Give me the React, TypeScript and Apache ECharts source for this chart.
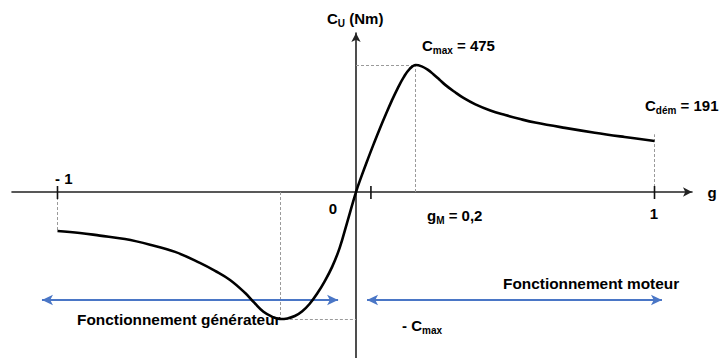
import React, { useEffect, useRef } from "react";
import * as echarts from "echarts";

// Torque / slip characteristic of an induction machine: g (slip) vs Cu (Nm)
// Generator side (g < 0)
const gGenerator = [-1, -0.925, -0.858, -0.774, -0.69, -0.606, -0.523, -0.472, -0.422, -0.372, -0.34, -0.31, -0.28, -0.255, -0.23, -0.205, -0.18, -0.155, -0.13, -0.105, -0.08, -0.055, -0.03, 0];
const cGenerator = [-146, -153, -163, -176, -197, -224, -265, -295, -329, -377, -415, -448, -467, -475, -473, -464, -446, -418, -380, -334, -280, -210, -115, 0];
// Motor side (g > 0)
const gMotor = [0.02, 0.04, 0.06, 0.08, 0.1, 0.12, 0.14, 0.16, 0.18, 0.2, 0.22, 0.24, 0.26, 0.28, 0.3, 0.33, 0.36, 0.4, 0.45, 0.5, 0.55, 0.6, 0.7, 0.8, 0.9, 1];
const cMotor = [64, 124, 182, 238, 291, 342, 389, 430, 461, 475, 470, 458, 440, 420, 400, 375, 352, 328, 305, 288, 273, 260, 240, 222, 206, 191];

// Marked slips on the g axis
const axisTickValues = [-1, 0.05, 1];

// Operating-range arrows (g from, g to)
const generatorRange = [-1.052, -0.06];
const motorRange = [0.037, 1.025];

const FONT = '"Liberation Sans", Arial, Helvetica, sans-serif';
const TEXT = "#1c1c1c";
const BLUE = "#4a76c6";

const rich = {
  b: { fontFamily: FONT, fontWeight: "bold", fontSize: 15, color: TEXT, lineHeight: 20 },
  s: { fontFamily: FONT, fontWeight: "bold", fontSize: 10, color: TEXT, lineHeight: 12, verticalAlign: "bottom" },
  w: { fontFamily: FONT, fontWeight: "bold", fontSize: 15.4, color: TEXT, lineHeight: 20 },
};

function label(x: number, y: number, text: string, align: string = "left") {
  return {
    type: "text",
    x,
    y,
    silent: true,
    style: { text, rich, align, verticalAlign: "middle" },
  };
}

export default function App() {
  const ref = useRef<HTMLDivElement>(null);

  useEffect(() => {
    if (!ref.current) return;
    const chart = echarts.init(ref.current, null, { renderer: "svg" });

    const curve = [
      ...gGenerator.map((g, i) => [g, cGenerator[i]]),
      ...gMotor.map((g, i) => [g, cMotor[i]]),
    ];

    const cMax = Math.max(...cMotor);
    const gPeak = gMotor[cMotor.indexOf(cMax)];
    const cMin = Math.min(...cGenerator);
    const gTrough = gGenerator[cGenerator.indexOf(cMin)];
    const gStart = gGenerator[0];
    const cStart = cGenerator[0];
    const gEnd = gMotor[gMotor.length - 1];
    const cEnd = cMotor[cMotor.length - 1];

    const seg = (a: number[], b: number[]) => [{ coord: a }, { coord: b }];
    const arrowLevel = -404;

    const option = {
      animation: false,
      backgroundColor: "#ffffff",
      grid: { left: 12, right: 33, top: 33, bottom: 0, containLabel: false },
      xAxis: {
        type: "value",
        min: -1.1524,
        max: 1.1256,
        axisLine: {
          show: true,
          onZero: true,
          symbol: ["none", "arrow"],
          symbolSize: [7, 9],
          lineStyle: { color: "#222", width: 1.6 },
        },
        axisTick: { show: false },
        axisLabel: { show: false },
        splitLine: { show: false },
      },
      yAxis: {
        type: "value",
        min: -621,
        max: 595,
        axisLine: {
          show: true,
          onZero: true,
          symbol: ["none", "arrow"],
          symbolSize: [7, 9],
          lineStyle: { color: "#222", width: 1.6 },
        },
        axisTick: { show: false },
        axisLabel: { show: false },
        splitLine: { show: false },
      },
      series: [
        {
          type: "line",
          data: curve,
          smooth: 0.4,
          showSymbol: false,
          lineStyle: { color: "#000", width: 2.6 },
          z: 5,
          markLine: {
            silent: true,
            symbol: ["none", "none"],
            label: { show: false },
            lineStyle: { color: "#9a9a9a", width: 1, type: [3, 2] },
            data: [
              seg([gPeak, 0], [gPeak, cMax]),
              seg([0, cMax], [gPeak, cMax]),
              seg([gTrough, 0], [gTrough, cMin]),
              seg([gTrough, cMin], [0, cMin]),
              seg([gStart, 0], [gStart, cStart]),
              seg([gEnd, 0], [gEnd, cEnd + 25]),
            ],
          },
        },
        {
          type: "line",
          data: [],
          markLine: {
            silent: true,
            symbol: ["arrow", "arrow"],
            symbolSize: [8, 11],
            label: { show: false },
            lineStyle: { color: BLUE, width: 2, type: "solid" },
            data: [
              seg([generatorRange[0], arrowLevel], [generatorRange[1], arrowLevel]),
              seg([motorRange[0], arrowLevel], [motorRange[1], arrowLevel]),
            ],
          },
        },
        {
          type: "custom",
          data: axisTickValues.map((v) => [v, 0]),
          encode: { x: 0, y: 1 },
          silent: true,
          z: 6,
          renderItem: (_params: any, api: any) => {
            const p = api.coord([api.value(0), 0]);
            return {
              type: "line",
              shape: { x1: p[0], y1: p[1] - 6, x2: p[0], y2: p[1] + 7 },
              style: { stroke: "#111", lineWidth: 1.6 },
            };
          },
        },
      ],
      graphic: [
        label(327, 18, "{b|C}{s|U}{b| (Nm)}"),
        label(422, 45, "{b|C}{s|max}{b| = 475}"),
        label(645, 105, "{b|C}{s|dém}{b| = 191}"),
        label(55, 178, "{b|- 1}"),
        label(333, 208, "{b|0}", "center"),
        label(654, 213, "{b|1}", "center"),
        label(427, 215, "{b|g}{s|M}{b| = 0,2}"),
        label(712, 192, "{b|g}", "center"),
        label(402, 325, "{b|- C}{s|max}"),
        label(77, 319, "{w|Fonctionnement générateur}"),
        label(503, 283, "{w|Fonctionnement moteur}"),
      ],
    };

    chart.setOption(option as any);
    return () => chart.dispose();
  }, []);

  return (
    <div
      ref={ref}
      style={{ position: "fixed", left: 0, top: 0, width: 725, height: 358 }}
    />
  );
}
